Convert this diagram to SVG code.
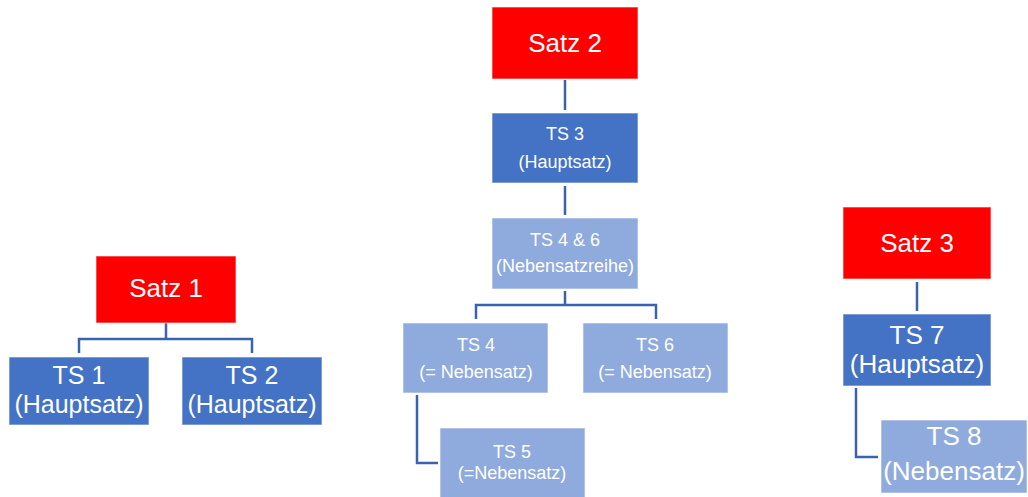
<svg xmlns="http://www.w3.org/2000/svg" width="1028" height="497" viewBox="0 0 1028 497">
<style>
rect{stroke:#ffffff;stroke-width:1;stroke-opacity:0.6}
.red{fill:#ff0000}
.dark{fill:#4472c4}
.light{fill:#8faadc}
text{font-family:"Liberation Sans",Arial,sans-serif;fill:#ffffff;text-anchor:middle}
.big{font-size:26px}
.mid{font-size:25px}
.small{font-size:18px}
.conn path{fill:none;stroke:#3a63ad;stroke-width:2.5}
</style>
<rect width="1028" height="497" fill="#ffffff" stroke="none"/>
<g class="conn" id="connectors">
<path d="M166 323V339M79 353V339H252V353"/>
<path d="M565 80V110"/>
<path d="M565 186V215"/>
<path d="M565 291V305M476 319V305H656V319"/>
<path d="M417 395V463H438"/>
<path d="M917 282V311"/>
<path d="M856 388V457H878"/>
</g>
<g id="satz1"><rect class="red" x="96" y="256" width="140" height="67"/><text class="big" x="166" y="297">Satz 1</text></g>
<g id="ts1"><rect class="dark" x="9" y="357" width="140" height="68"/><text class="mid" x="79" y="384">TS 1</text><text class="mid" x="79" y="413">(Hauptsatz)</text></g>
<g id="ts2"><rect class="dark" x="182" y="357" width="140" height="68"/><text class="mid" x="252" y="384">TS 2</text><text class="mid" x="252" y="413">(Hauptsatz)</text></g>
<g id="satz2"><rect class="red" x="492" y="7" width="146" height="72"/><text class="big" x="565" y="52">Satz 2</text></g>
<g id="ts3"><rect class="dark" x="492" y="113" width="146" height="70"/><text class="small" x="565" y="140">TS 3</text><text class="small" x="565" y="168">(Hauptsatz)</text></g>
<g id="ts46"><rect class="light" x="492" y="218" width="146" height="71"/><text class="small" x="565" y="246">TS 4 &amp; 6</text><text class="small" x="565" y="272">(Nebensatzreihe)</text></g>
<g id="ts4"><rect class="light" x="403" y="323" width="145" height="70"/><text class="small" x="476" y="351">TS 4</text><text class="small" x="476" y="378">(= Nebensatz)</text></g>
<g id="ts6"><rect class="light" x="583" y="323" width="145" height="70"/><text class="small" x="655" y="351">TS 6</text><text class="small" x="655" y="378">(= Nebensatz)</text></g>
<g id="ts5"><rect class="light" x="440" y="428" width="145" height="70"/><text class="small" x="512" y="458">TS 5</text><text class="small" x="512" y="479">(=Nebensatz)</text></g>
<g id="satz3"><rect class="red" x="843" y="207" width="148" height="72"/><text class="big" x="917" y="252">Satz 3</text></g>
<g id="ts7"><rect class="dark" x="843" y="314" width="148" height="72"/><text class="big" x="917" y="344">TS 7</text><text class="big" x="917" y="373">(Hauptsatz)</text></g>
<g id="ts8"><rect class="light" x="881" y="420" width="146" height="73"/><text class="big" x="954" y="445">TS 8</text><text class="big" x="954" y="480">(Nebensatz)</text></g>
</svg>
